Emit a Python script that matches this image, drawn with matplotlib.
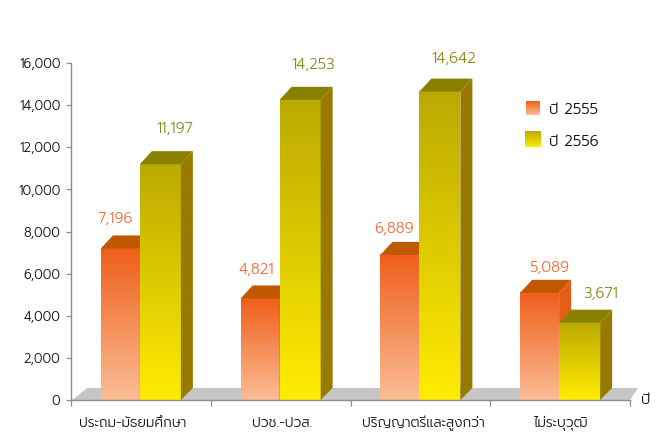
import numpy as np
import matplotlib
matplotlib.use("Agg")
import matplotlib.pyplot as plt
from matplotlib.colors import LinearSegmentedColormap
from matplotlib.patches import Polygon
from matplotlib.ticker import FuncFormatter

categories = ["ประถม-มัธยมศึกษา", "ปวช.-ปวส.", "ปริญญาตรีและสูงกว่า", "ไม่ระบุวุฒิ"]
series_names = ["ปี 2555", "ปี 2556"]
values_2555 = [7196, 4821, 6889, 5089]
values_2556 = [11197, 14253, 14642, 3671]
y_ticks = [0, 2000, 4000, 6000, 8000, 10000, 12000, 14000, 16000]

plt.rcParams["font.family"] = ["Prompt", "DejaVu Sans"]
plt.rcParams["font.weight"] = 300

W, H = 662, 434
L, R, T, B = 71, 630, 63, 400
fig = plt.figure(figsize=(W / 100, H / 100), dpi=100, facecolor="white")
ax = fig.add_axes([L / W, 1 - B / H, (R - L) / W, (B - T) / H])
ax.set_xlim(0, 4)
ax.set_ylim(0, 16000)

PX = 4 / (R - L)                 # x data units per pixel
PY = 16000 / (B - T)             # y data units per pixel
DX = 12 * PX
DY = 13 * PY
W_O = 39 * PX
W_Y = 41 * PX

orange = LinearSegmentedColormap.from_list("o", ["#fbbd95", "#ef5f1a"])
yellow = LinearSegmentedColormap.from_list("y", ["#ffec00", "#bba900"])
grad = np.linspace(0, 1, 256).reshape(-1, 1)


def bar3d(x0, bw, value, cmap, top, side, z):
    ax.imshow(grad, cmap=cmap, origin="lower", aspect="auto",
              extent=(x0, x0 + bw, 0, value), zorder=z, interpolation="bilinear")
    ax.add_patch(Polygon([(x0, value), (x0 + DX, value + DY), (x0 + bw + DX, value + DY), (x0 + bw, value)],
                         closed=True, fc=top, ec="none", zorder=z, clip_on=False))
    ax.add_patch(Polygon([(x0 + bw, 0), (x0 + bw + DX, 12 * PY), (x0 + bw + DX, value + DY), (x0 + bw, value)],
                         closed=True, fc=side, ec="none", zorder=z, clip_on=False))


# floor
ax.add_patch(Polygon([(PX, 0), (16 * PX, 12 * PY), (4 + 8 * PX, 12 * PY), (4, 0)], closed=True,
                     fc="#c6c6c6", ec="none", zorder=1, clip_on=False))

ORANGE_TXT = "#f2703a"
OLIVE_TXT = "#8f8a1e"
orange_offsets = [(-5, 29.4), (-4, 28.5), (-6, 26), (10, 24.8)]
yellow_offsets = [(14, 35.2), (13.4, 34.8), (13.6, 32.6), (21.4, 28.7)]
for i, (a, b) in enumerate(zip(values_2555, values_2556)):
    x_o = i + 0.5 - 40 * PX
    x_y = x_o + W_O
    bar3d(x_o, W_O, a, orange, "#c05800", "#e55c14", 2 + i * 0.01)
    bar3d(x_y, W_Y, b, yellow, "#8a8000", "#997a00", 3 + i * 0.01)
    dx, dy = orange_offsets[i]
    ax.annotate(f"{a:,}", (x_o + W_O / 2, a), xytext=(dx * 0.72, dy * 0.72), textcoords="offset points",
                ha="center", va="center", color=ORANGE_TXT, fontsize=10.8, zorder=6, annotation_clip=False)
    dx, dy = yellow_offsets[i]
    ax.annotate(f"{b:,}", (x_y + W_Y / 2, b), xytext=(dx * 0.72, dy * 0.72), textcoords="offset points",
                ha="center", va="center", color=OLIVE_TXT, fontsize=10.8, zorder=6, annotation_clip=False)

ax.set_xlim(0, 4)
ax.set_ylim(0, 16000)

for s in ["top", "right"]:
    ax.spines[s].set_visible(False)
for s in ["left", "bottom"]:
    ax.spines[s].set_color("#8c8c8c")
    ax.spines[s].set_linewidth(1.0)
    ax.spines[s].set_zorder(5)

ax.set_yticks(y_ticks)
ax.yaxis.set_major_formatter(FuncFormatter(lambda v, _: f"{int(v):,}"))
ax.tick_params(axis="y", length=3.6, width=0.9, color="#8c8c8c", labelsize=9.4, labelcolor="#111111", pad=4)
ax.set_xticks(range(5))
ax.tick_params(axis="x", length=4.5, width=0.9, color="#8c8c8c", labelbottom=False)
label_shift = [-8, 1.5, 3, 1]
for i, c in enumerate(categories):
    ax.annotate(c, (i + 0.5, 0), xytext=(label_shift[i] * 0.72, -23.5 * 0.72), textcoords="offset points",
                ha="center", va="center", fontsize=9.8, color="#111111", annotation_clip=False)
ax.annotate("ปี", (4, 0), xytext=(16 * 0.72, 0), textcoords="offset points",
            ha="center", va="center", fontsize=10.5, color="#111111", annotation_clip=False)

# legend
lax = fig.add_axes([0, 0, 1, 1], facecolor="none")
lax.axis("off")
for name, box, cmap in zip(series_names, [(526, 101, 14), (525, 131, 16)], [orange, yellow]):
    x, y, s = box
    lax.imshow(grad, cmap=cmap, origin="lower", aspect="auto", extent=(x, x + s, y + s, y), interpolation="bilinear")
    lax.text(549, y + s / 2 + 2.5, name, va="center", ha="left", fontsize=10.8, color="#111111")
lax.set_xlim(0, W)
lax.set_ylim(H, 0)

fig.savefig("out.png", dpi=100)
